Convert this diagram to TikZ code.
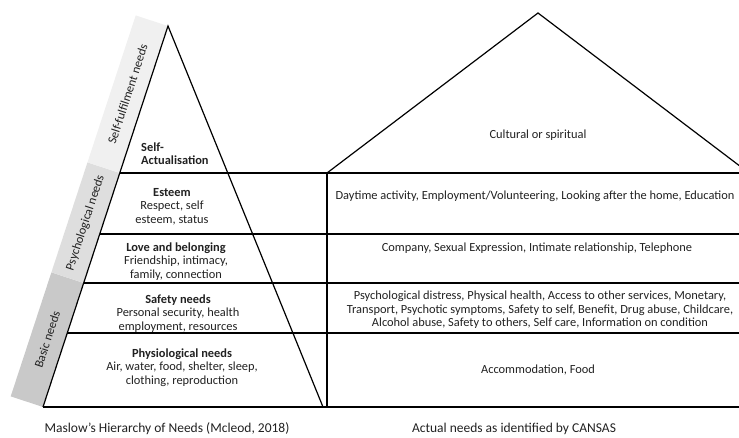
\documentclass[tikz,border=0pt]{standalone}
\usepackage{fontspec}
\setmainfont{Carlito}
\usetikzlibrary{calc}

\definecolor{bandtop}{gray}{0.94}
\definecolor{bandmid}{gray}{0.87}
\definecolor{bandlow}{gray}{0.79}
\definecolor{inkgray}{gray}{0.13}

\tikzset{
  lbl/.style={font=\fontsize{12.4}{13.5}\selectfont, text=inkgray, align=center, inner sep=0pt},
  bandlbl/.style={lbl, rotate=71.8},
  caption/.style={lbl, font=\fontsize{13.5}{15}\selectfont},
  rule/.style={line width=1.2pt}
}

\begin{document}
\begin{tikzpicture}[x=1pt, y=-1pt]
  \useasboundingbox (0,0) rectangle (739,438);
  \clip (0,0) rectangle (739,438);

  % --- corners of the pyramid ---
  \coordinate (apex) at (168,26);
  \coordinate (bl) at (43,407);
  \coordinate (br) at (323,407);
  \coordinate (far) at (750,0);

  % --- points on the left edge, one per level ---
  \coordinate (l1) at ($(bl)!0.6142!(apex)$);
  \coordinate (l2) at ($(bl)!0.4541!(apex)$);
  \coordinate (l3) at ($(bl)!0.3255!(apex)$);
  \coordinate (l4) at ($(bl)!0.1942!(apex)$);

  % --- grey band on the left ---
  \fill[bandlow] (bl) -- (l3) -- ++(-32.3,-10.6) -- ($(bl)+(-32.3,-10.6)$) -- cycle;
  \fill[bandmid] (l3) -- (l1) -- ++(-32.3,-10.6) -- ($(l3)+(-32.3,-10.6)$) -- cycle;
  \fill[bandtop] (l1) -- (apex) -- ++(-32.3,-10.6) -- ($(l1)+(-32.3,-10.6)$) -- cycle;
  \node[bandlbl] (basic) at ($(bl)!0.5!(l3)+(-16.2,-5.3)$) {Basic needs};
  \node[bandlbl] (psycho) at ($(l3)!0.5!(l1)+(-16.2,-5.3)$) {Psychological needs};
  \node[bandlbl] (selff) at ($(l1)!0.5!(apex)+(-16.2,-5.3)$) {Self-fulfilment needs};

  % --- pyramid ---
  \draw[rule] (bl) -- (apex) -- (br);
  \draw[rule] (bl) -- (bl -| far);
  \draw[rule] (l1) -- (l1 -| far);
  \draw[rule] (l2) -- (l2 -| far);
  \draw[rule] (l3) -- (l3 -| far);
  \draw[rule] (l4) -- (l4 -| far);

  % --- CANSAS box with roof ---
  \coordinate (boxtl) at (327,173);
  \coordinate (roof) at (538,13);
  \draw[rule] (boxtl) -- (boxtl |- bl);
  \draw[rule] (boxtl) -- (roof) -- (749,173);

  % --- levels of the pyramid ---
  \node[lbl, align=left, anchor=west] (selfact) at (141,153.5) {\textbf{Self-}\\\textbf{Actualisation}};
  \node[lbl] (esteem) at (172,206.5) {\textbf{Esteem}\\Respect, self\\esteem, status};
  \node[lbl] (love) at (176,261.5) {\textbf{Love and belonging}\\Friendship, intimacy,\\family, connection};
  \node[lbl] (safety) at (178,313.5) {\textbf{Safety needs}\\Personal security, health\\employment, resources};
  \node[lbl] (physio) at (182,367.5) {\textbf{Physiological needs}\\Air, water, food, shelter, sleep,\\clothing, reproduction};

  % --- needs found by CANSAS ---
  \node[lbl] (cultural) at (538,135) {Cultural or spiritual};
  \node[lbl] (daytime) at (535,196) {Daytime activity, Employment/Volunteering, Looking after the home, Education};
  \node[lbl] (company) at (537,248) {Company, Sexual Expression, Intimate relationship, Telephone};
  \node[lbl] (distress) at (540,310) {Psychological distress, Physical health, Access to other services, Monetary,\\Transport, Psychotic symptoms, Safety to self, Benefit, Drug abuse, Childcare,\\Alcohol abuse, Safety to others, Self care, Information on condition};
  \node[lbl] (accom) at (538,370) {Accommodation, Food};

  % --- captions ---
  \node[caption] (capleft) at (167,429) {Maslow’s Hierarchy of Needs (Mcleod, 2018)};
  \node[caption] (capright) at (514,429) {Actual needs as identified by CANSAS};

\end{tikzpicture}
\end{document}
